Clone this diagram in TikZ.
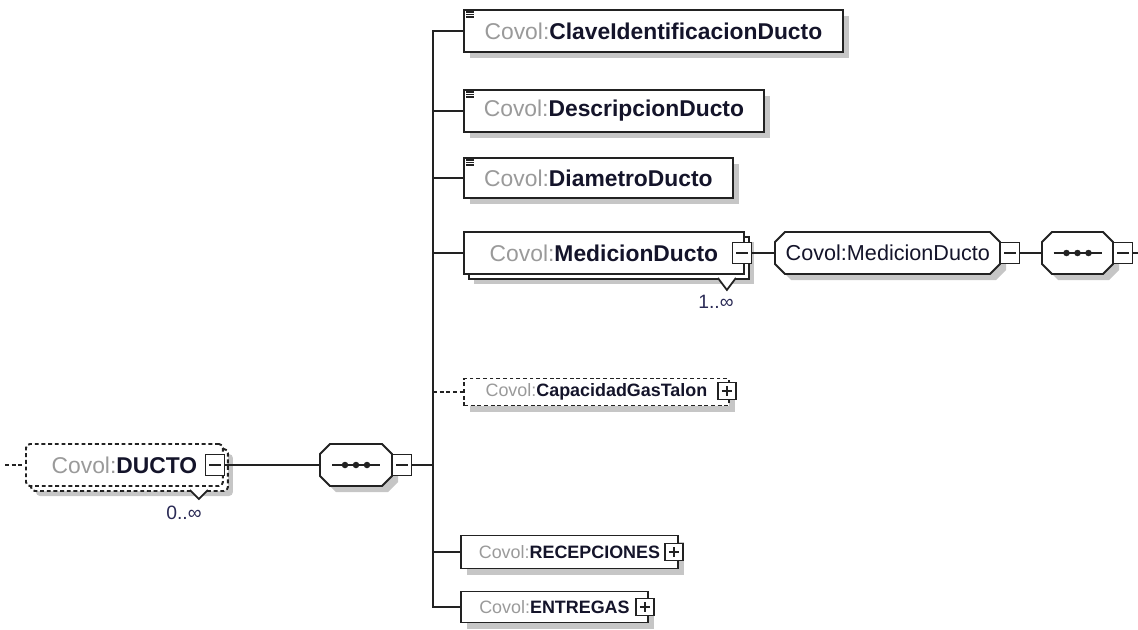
\documentclass[tikz,border=0pt]{standalone}
\usepackage{fontspec}
\setmainfont{Liberation Sans}
\setsansfont{Liberation Sans}
\usetikzlibrary{positioning, calc, shadows}
\definecolor{ink}{HTML}{222222}
\definecolor{pfx}{HTML}{9A9A9A}
\definecolor{name}{HTML}{14142A}
\definecolor{shade}{HTML}{C6C6C6}
\definecolor{card}{HTML}{2A2A55}

\newcommand{\cv}[1]{{\color{pfx}Covol:}{\bfseries\color{name}#1}}
\newcommand{\octo}[5]{% x1, y1, x2, y2, chamfer
  (#1+#5,#2) -- (#3-#5,#2) -- (#3,#2+#5) -- (#3,#4-#5) -- (#3-#5,#4)
  -- (#1+#5,#4) -- (#1,#4-#5) -- (#1,#2+#5) -- cycle}

\tikzset{
  font=\sffamily,
  %
  elem/.style={
    draw=ink, line width=1.1pt, fill=white, inner sep=0pt, anchor=west,
    minimum height=0.84cm, font=\sffamily\fontsize{13}{15}\selectfont,
  },
  elems/.style={elem, minimum height=0.58cm, font=\sffamily\fontsize{10.2}{12}\selectfont},
  shad/.style={drop shadow={shadow xshift=#1, shadow yshift=-#1, fill=shade, opacity=1}},
  shad/.default=0.12cm,
  many/.style={copy shadow={shadow xshift=0.1cm, shadow yshift=-0.1cm,
    draw=ink, line width=1.1pt, fill=white, #1}},
  many/.default={},
  opt/.style={dash pattern=on 2.2pt off 1.6pt},
  %
  comp/.style={draw=ink, line width=1.1pt, fill=white},
  compshad/.style={fill=shade, shift={(6,6)}},
  compbox/.style={inner sep=0pt, minimum height=0.84cm},
  %
  tog/.style={draw=ink, line width=1pt, fill=white, inner sep=0pt,
    minimum width=0.38cm, minimum height=0.42cm,
    path picture={\draw[line width=1pt]
      ([xshift=2pt]path picture bounding box.west) --
      ([xshift=-2pt]path picture bounding box.east);}},
  togp/.style={draw=ink, line width=1pt, fill=white, inner sep=0pt,
    minimum width=0.35cm, minimum height=0.34cm,
    path picture={\draw[line width=0.9pt]
      ([xshift=2pt]path picture bounding box.west) --
      ([xshift=-2pt]path picture bounding box.east)
      ([yshift=2pt]path picture bounding box.south) --
      ([yshift=-2pt]path picture bounding box.north);}},
  %
  wire/.style={draw=ink, line width=1.1pt},
  icon/.style={draw=ink, line width=0.9pt},
  card/.style={font=\sffamily\fontsize{11}{13}\selectfont, text=card, inner sep=0pt},
  cardmark/.style={draw=ink, line width=1pt, fill=white},
}

\begin{document}
\begin{tikzpicture}[x=0.02cm, y=-0.02cm]
  \useasboundingbox (0,0) rectangle (1138,629);

  % --- root element --------------------------------------------------
  \coordinate (din) at (5,465);
  \node[elem, opt, rounded corners=0.08cm, shad=0.2cm, many={opt}, minimum width=3.94cm]
    (ducto) at (25,465) {\cv{DUCTO}};
  \node[tog] (dtog) at (215,465) {};
  \filldraw[cardmark] ([shift={(-34,3)}]ducto.south east) -- ([shift={(-25,12)}]ducto.south east)
    -- ([shift={(-16,3)}]ducto.south east);
  \node[card] (dcard) at (184,513) {0..∞};
  \draw[wire, opt] (din) -- (ducto.west);

  % --- sequence --------------------------------------------------------
  \fill[compshad] \octo{320}{444}{392}{486}{10};
  \draw[comp] \octo{320}{444}{392}{486}{10};
  \node[compbox, minimum width=1.44cm] (seq) at (356,465) {};
  \draw[wire, line width=1pt] ($(seq.center)+(-24,0)$) -- ($(seq.center)+(24,0)$);
  \foreach \dx in {-11,0,11}
    \fill[ink] ($(seq.center)+(\dx,0)$) circle[radius=0.065cm];
  \node[tog] (stog) at (402,465) {};
  \draw[wire] (dtog.east) -- (seq.west);
  \coordinate (trunk) at (433,465);
  \draw[wire] (stog.east) -- (trunk);

  % --- children ----------------------------------------------------------
  \node[elem, shad, minimum width=7.58cm] (clave) at (463,31) {\cv{ClaveIdentificacionDucto}};
  \node[elem, shad, minimum width=6.0cm] (desc) at (463,111) {\cv{DescripcionDucto}};
  \node[elem, shad, minimum width=5.38cm, minimum height=0.8cm] (diam) at (463,178) {\cv{DiametroDucto}};
  \node[elem, shad=0.2cm, many, minimum width=5.6cm] (medic) at (463,253) {\cv{MedicionDucto}};
  \node[elems, opt, shad, minimum width=5.3cm, minimum height=0.54cm]
    (capac) at (463,392) {\cv{CapacidadGasTalon}};
  \node[elems, shad, minimum width=4.34cm, minimum height=0.66cm]
    (recep) at (460,552) {\cv{RECEPCIONES}};
  \node[elems, shad, minimum width=3.74cm, minimum height=0.62cm]
    (entreg) at (460,607) {\cv{ENTREGAS}};

  \foreach \n in {clave,desc,diam}
    \foreach \k in {3,5.5,8}
      \draw[icon] ([shift={(3,\k)}]\n.north west) -- ++(8,0);

  \draw[wire] (clave.west) -| (trunk) |- (entreg.west);
  \foreach \n in {desc,diam,medic,recep}
    \draw[wire] (\n.west -| trunk) -- (\n.west);
  \draw[wire, opt] (capac.west -| trunk) -- (capac.west);

  \node[togp] (ctog) at (727,391) {};
  \node[togp] (rtog) at (674,552) {};
  \node[togp] (etog) at (645,607) {};

  % --- MedicionDucto type ----------------------------------------------
  \node[tog] (mtog) at (742,253) {};
  \filldraw[cardmark] ([shift={(-27,3)}]medic.south east) -- ([shift={(-18,15)}]medic.south east)
    -- ([shift={(-9,3)}]medic.south east);
  \node[card] (mcard) at (716,302) {1..∞};

  \fill[compshad] \octo{775}{232}{1000}{274}{10};
  \draw[comp] \octo{775}{232}{1000}{274}{10};
  \node[compbox, anchor=west, minimum width=4.5cm,
    font=\sffamily\fontsize{12.3}{14}\selectfont, text=name]
    (mtype) at (775,253) {Covol:MedicionDucto};
  \node[tog] (ttog) at (1010,253) {};

  \fill[compshad] \octo{1042}{232}{1113}{274}{10};
  \draw[comp] \octo{1042}{232}{1113}{274}{10};
  \node[compbox, minimum width=1.42cm] (mseq) at (1077.5,253) {};
  \draw[wire, line width=1pt] ($(mseq.center)+(-24,0)$) -- ($(mseq.center)+(24,0)$);
  \foreach \dx in {-11,0,11}
    \fill[ink] ($(mseq.center)+(\dx,0)$) circle[radius=0.065cm];
  \node[tog] (qtog) at (1123,253) {};
  \coordinate (mout) at (1138,253);

  \draw[wire] (mtog.east) -- (mtype.west);
  \draw[wire] (ttog.east) -- (mseq.west);
  \draw[wire] (qtog.east) -- (mout);

\end{tikzpicture}
\end{document}
